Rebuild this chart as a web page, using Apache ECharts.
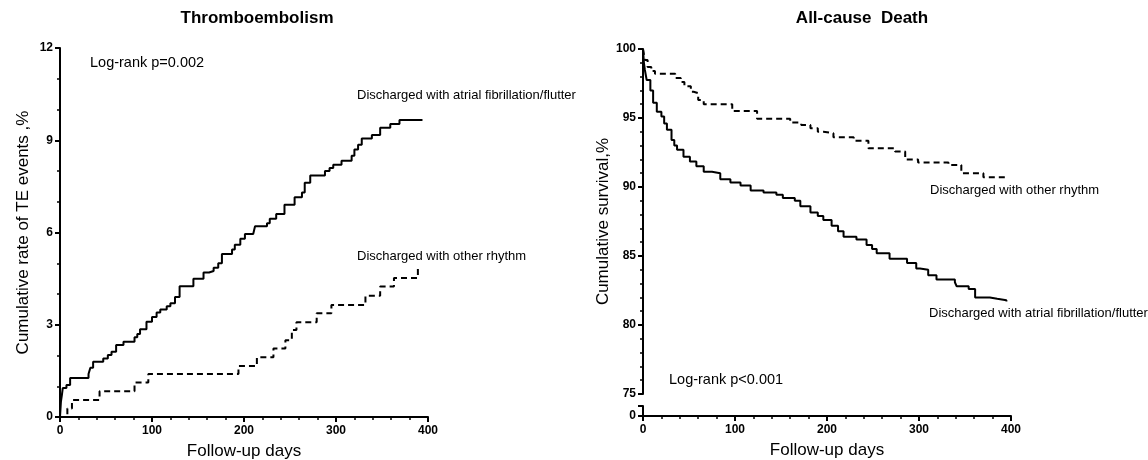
<!DOCTYPE html>
<html>
<head>
<meta charset="utf-8">
<script src="https://cdn.jsdelivr.net/npm/echarts@6/dist/echarts.min.js"></script>
<style>html,body{margin:0;padding:0;background:#fff;}#c{width:1148px;height:460px;}</style>
</head>
<body>
<div id="c"></div>
<script>
// ---- data ----
var xTicksDays = [0, 100, 200, 300, 400];
var teYTicks = [0, 3, 6, 9, 12];
var survYTicks = [75, 80, 85, 90, 95, 100];

// Thromboembolism: cumulative rate (%), [day, value]
var teAF = [[0,0],[1,0.5],[2,0.7],[3,0.94],[7,1.04],[11,1.27],[31,1.4],[33,1.6],[36,1.8],[47,1.9],[52,2.02],[56,2.12],[61,2.34],[69,2.45],[81,2.59],[84,2.7],[87,2.85],[94,3.1],[100,3.25],[105,3.4],[109,3.5],[116,3.6],[120,3.7],[125,3.9],[130,4.25],[145,4.5],[156,4.7],[162,4.75],[167,4.85],[172,5.0],[176,5.3],[187,5.45],[190,5.6],[196,5.8],[201,5.95],[210,6.0],[212,6.2],[225,6.3],[228,6.45],[235,6.6],[244,6.9],[255,7.15],[263,7.3],[266,7.62],[272,7.85],[288,8.0],[293,8.1],[297,8.2],[306,8.33],[317,8.5],[320,8.7],[324,8.85],[328,9.06],[339,9.17],[348,9.41],[359,9.53],[369,9.66],[394,9.66]];
var teOther = [[0,0],[8,0.28],[13,0.55],[43,0.84],[81,1.12],[96,1.4],[194,1.66],[214,1.94],[232,2.23],[245,2.5],[252,2.83],[257,3.08],[279,3.37],[295,3.64],[332,3.94],[348,4.24],[363,4.52],[389,4.84]];

// All-cause death: cumulative survival (%), [day, value]
var survAF = [[0,100],[1,99],[2,98.5],[4,97.75],[8,97.0],[11,96.1],[15,95.46],[20,95.1],[23,94.6],[26,94.14],[31,93.4],[34,93.0],[37,92.7],[44,92.2],[51,91.85],[58,91.5],[66,91.1],[75,91.0],[84,90.57],[95,90.33],[106,90.1],[117,89.75],[131,89.6],[145,89.44],[152,89.2],[165,89.0],[171,88.6],[182,88.15],[190,87.9],[196,87.6],[205,87.2],[212,86.8],[218,86.4],[232,86.2],[243,85.8],[249,85.5],[254,85.2],[268,84.8],[287,84.5],[297,84.1],[301,84.0],[310,83.6],[319,83.3],[339,83.1],[341,82.8],[354,82.6],[361,82.0],[377,81.9],[385,81.8],[395,81.7]];
var survOther = [[0,100],[2,99.2],[5,98.7],[9,98.4],[13,98.2],[35,97.9],[41,97.6],[45,97.3],[52,96.9],[55,96.8],[60,96.3],[66,96.0],[97,95.5],[124,94.95],[160,94.67],[172,94.5],[182,94.26],[190,94.0],[196,93.9],[207,93.6],[229,93.36],[245,92.8],[274,92.57],[285,92.0],[299,91.77],[332,91.6],[346,91.0],[370,90.7],[395,90.7]];

var titles = ['Thromboembolism', 'All-cause  Death'];
var xName = 'Follow-up days';
var yNames = ['Cumulative rate of TE events ,%', 'Cumulative survival,%'];
var notes = ['Log-rank p=0.002', 'Log-rank p<0.001'];
var groupNames = ['Discharged with atrial fibrillation/flutter', 'Discharged with other rhythm'];

// ---- chart ----
var FONT = '"Liberation Sans", Arial, sans-serif';
var axisLine = {show: true, onZero: false, lineStyle: {color: '#000', width: 2}};
var axisTick = {show: true, inside: false, length: 5, lineStyle: {color: '#000', width: 2}};
var minorTick = function (n) { return {show: true, splitNumber: n, length: 3, lineStyle: {color: '#000', width: 1.5}}; };
var tickLabel = {color: '#000', fontWeight: 'bold', fontSize: 12, fontFamily: FONT, margin: 7};
var xTickLabel = Object.assign({}, tickLabel, {margin: 8});
var nameStyle = {color: '#000', fontSize: 17, fontFamily: FONT};

function xAxisCfg(gi, show) {
  return {
    type: 'value', gridIndex: gi, min: xTicksDays[0], max: xTicksDays[xTicksDays.length - 1], interval: 100,
    show: show, axisLine: axisLine, axisTick: axisTick, minorTick: minorTick(5),
    axisLabel: xTickLabel, splitLine: {show: false},
    name: show ? xName : '', nameLocation: 'middle', nameGap: 26, nameTextStyle: nameStyle
  };
}

var solid = {color: '#000', width: 2};
var dashed = {color: '#000', width: 2, type: [6, 4]};

var chart = echarts.init(document.getElementById('c'), null, {renderer: 'canvas'});
chart.setOption({
  animation: false,
  backgroundColor: '#fff',
  grid: [
    {left: 60, right: 720, top: 48, bottom: 43, containLabel: false, outerBoundsMode: 'none'},
    {left: 643, right: 137, top: 49, bottom: 66, containLabel: false, outerBoundsMode: 'none'},
    {left: 643, right: 137, top: 406, bottom: 44, containLabel: false, outerBoundsMode: 'none'}
  ],
  xAxis: [xAxisCfg(0, true), xAxisCfg(1, false), xAxisCfg(2, true)],
  yAxis: [
    {type: 'value', gridIndex: 0, min: teYTicks[0], max: teYTicks[teYTicks.length - 1], interval: 3,
     axisLine: axisLine, axisTick: axisTick, minorTick: minorTick(3), axisLabel: tickLabel, splitLine: {show: false},
     name: yNames[0], nameLocation: 'middle', nameGap: 28, nameTextStyle: nameStyle},
    {type: 'value', gridIndex: 1, min: survYTicks[0], max: survYTicks[survYTicks.length - 1], interval: 5,
     axisLine: axisLine, axisTick: axisTick, minorTick: minorTick(5), axisLabel: tickLabel, splitLine: {show: false},
     name: yNames[1], nameLocation: 'middle', nameGap: 31, nameTextStyle: nameStyle},
    {type: 'value', gridIndex: 2, min: 0, max: 1, interval: 1,
     axisLine: axisLine, axisTick: axisTick,
     axisLabel: Object.assign({}, tickLabel, {formatter: function (v) { return v === 0 ? '0' : ''; }}),
     splitLine: {show: false}}
  ],
  series: [
    {type: 'line', xAxisIndex: 0, yAxisIndex: 0, step: 'end', data: teAF, showSymbol: false, lineStyle: solid, silent: true},
    {type: 'line', xAxisIndex: 0, yAxisIndex: 0, step: 'end', data: teOther, showSymbol: false, lineStyle: dashed, silent: true},
    {type: 'line', xAxisIndex: 1, yAxisIndex: 1, step: 'end', data: survAF, showSymbol: false, lineStyle: solid, silent: true},
    {type: 'line', xAxisIndex: 1, yAxisIndex: 1, step: 'end', data: survOther, showSymbol: false, lineStyle: dashed, silent: true}
  ],
  graphic: [
    {type: 'text', x: 257, y: 18, style: {text: titles[0], font: 'bold 17px ' + FONT, fill: '#000', align: 'center', verticalAlign: 'middle'}},
    {type: 'text', x: 862, y: 18, style: {text: titles[1], font: 'bold 17px ' + FONT, fill: '#000', align: 'center', verticalAlign: 'middle'}},
    {type: 'text', x: 90, y: 63, style: {text: notes[0], font: '14.5px ' + FONT, fill: '#000', align: 'left', verticalAlign: 'middle'}},
    {type: 'text', x: 669, y: 380, style: {text: notes[1], font: '14.5px ' + FONT, fill: '#000', align: 'left', verticalAlign: 'middle'}},
    {type: 'text', x: 357, y: 95, style: {text: groupNames[0], font: '13px ' + FONT, fill: '#000', align: 'left', verticalAlign: 'middle'}},
    {type: 'text', x: 357, y: 256, style: {text: groupNames[1], font: '13px ' + FONT, fill: '#000', align: 'left', verticalAlign: 'middle'}},
    {type: 'text', x: 930, y: 190, style: {text: groupNames[1], font: '13px ' + FONT, fill: '#000', align: 'left', verticalAlign: 'middle'}},
    {type: 'text', x: 929, y: 313, style: {text: groupNames[0], font: '13px ' + FONT, fill: '#000', align: 'left', verticalAlign: 'middle'}}
  ]
});
</script>
</body>
</html>
